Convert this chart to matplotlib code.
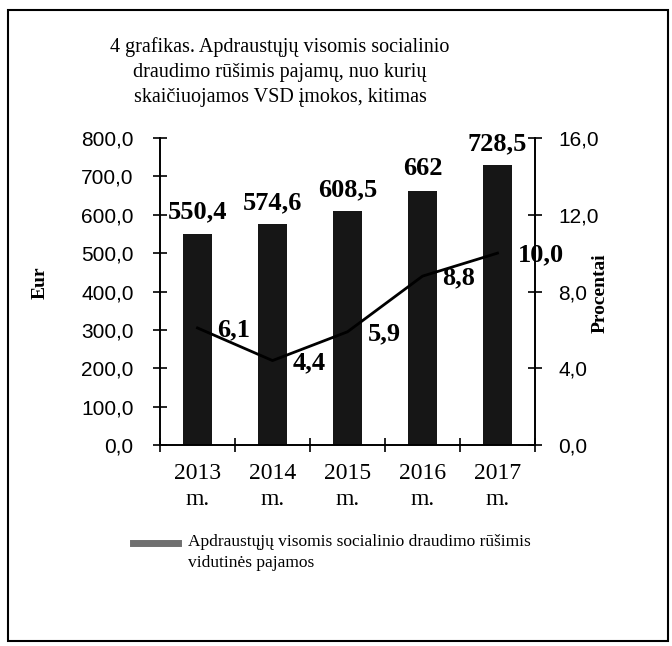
import matplotlib
matplotlib.use("Agg")
import matplotlib.pyplot as plt
from matplotlib.patches import Rectangle
from matplotlib.lines import Line2D
import numpy as np

years = ["2013\nm.", "2014\nm.", "2015\nm.", "2016\nm.", "2017\nm."]
income = [550.4, 574.6, 608.5, 662.0, 728.5]
income_labels = ["550,4", "574,6", "608,5", "662", "728,5"]
growth = [6.1, 4.4, 5.9, 8.8, 10.0]
growth_labels = ["6,1", "4,4", "5,9", "8,8", "10,0"]
left_ticks = [0, 100, 200, 300, 400, 500, 600, 700, 800]
right_ticks = [0, 4, 8, 12, 16]

title = ("4 grafikas. Apdraustųjų visomis socialinio\n"
         "draudimo rūšimis pajamų, nuo kurių\n"
         "skaičiuojamos VSD įmokos, kitimas")
legend_text = ("Apdraustųjų visomis socialinio draudimo rūšimis\n"
               "vidutinės pajamos")

W, H = 672, 646
fig = plt.figure(figsize=(W / 100, H / 100), dpi=100)
fig.patch.set_facecolor("white")

def fx(px):
    return px / W

def fy(py):
    return 1 - py / H

ax = fig.add_axes([fx(160), fy(445), fx(535) - fx(160), fy(138) - fy(445)])
ax2 = ax.twinx()

serif = "Liberation Serif"
sans = "Liberation Sans"

x = np.arange(len(years))
ax.bar(x, income, width=0.39, color="#161616", zorder=2)
ax.set_xlim(-0.5, len(years) - 0.5)
ax.set_ylim(0, 800)
ax.set_yticks(left_ticks)
ax.set_yticklabels([f"{v:.1f}".replace(".", ",") for v in left_ticks],
                   fontfamily=sans, fontsize=15)
ax.tick_params(axis="y", direction="inout", length=10, width=1.2, pad=14)

ax.set_xticks(x)
ax.set_xticklabels(years, fontfamily=serif, fontsize=17, linespacing=1.3)
ax.set_xticks(np.arange(-0.5, len(years)), minor=True)
ax.tick_params(axis="x", which="major", length=0, pad=13)
ax.tick_params(axis="x", which="minor", direction="inout", length=10, width=1.2)

for xi, v, lab in zip(x, income, income_labels):
    ax.annotate(lab, (xi, v), xytext=(0, 22), textcoords="offset pixels",
                ha="center", va="center", fontfamily=serif, fontweight="bold",
                fontsize=19, zorder=5)

ax2.plot(x, growth, color="black", lw=2, zorder=3)
ax2.set_ylim(0, 16)
ax2.set_yticks(right_ticks)
ax2.set_yticklabels([f"{v:.1f}".replace(".", ",") for v in right_ticks],
                    fontfamily=sans, fontsize=15)
ax2.tick_params(axis="y", direction="inout", length=10, width=1.2, pad=12)

for xi, v, lab in zip(x, growth, growth_labels):
    ax2.annotate(lab, (xi, v), xytext=(20, -2), textcoords="offset pixels",
                 ha="left", va="center", fontfamily=serif, fontweight="bold",
                 fontsize=19, zorder=5)

for a in (ax, ax2):
    a.spines["top"].set_visible(False)
    for s in ("left", "right", "bottom"):
        a.spines[s].set_linewidth(1.2)
        a.spines[s].set_color("black")
    a.patch.set_visible(False)

fig.text(fx(280), fy(72), title, ha="center", va="center", fontfamily=serif,
         fontsize=14.5, linespacing=1.45)
fig.text(fx(40), fy(283), "Eur", rotation=90, ha="center", va="center",
         fontfamily=serif, fontweight="bold", fontsize=14)
fig.text(fx(600), fy(293), "Procentai", rotation=90, ha="center", va="center",
         fontfamily=serif, fontweight="bold", fontsize=14)

fig.add_artist(Line2D([fx(133), fx(178)], [fy(543), fy(543)], lw=5,
                      color="#707070", transform=fig.transFigure))
fig.text(fx(188), fy(534), legend_text, ha="left", va="top", fontfamily=serif,
         fontsize=12.5, linespacing=1.45)

fig.add_artist(Rectangle((fx(8), fy(641)), fx(668) - fx(8), fy(10) - fy(641),
                         fill=False, lw=1.5, edgecolor="black",
                         transform=fig.transFigure))

fig.savefig("out.png", dpi=100, facecolor="white")
